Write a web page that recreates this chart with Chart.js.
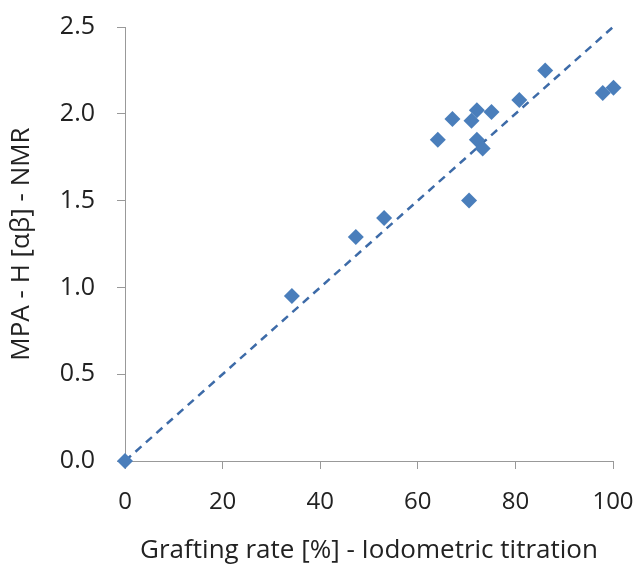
<!DOCTYPE html>
<html>
<head>
<meta charset="utf-8">
<script src="https://cdn.jsdelivr.net/npm/chart.js@4/dist/chart.umd.min.js"></script>
<style>
  body { margin: 0; background: #fff; }
  canvas { display: block; }
</style>
</head>
<body>
<canvas id="grafico" width="638" height="566"></canvas>
<script>
// lectura de la figura
const tasaInjerto = [0, 34.2, 47.3, 53.1, 64.1, 67.1, 70.5, 71.0, 72.1, 72.1, 73.3, 75.1, 80.8, 86.1, 97.9, 100.1];
const valorRMN = [0, 0.95, 1.29, 1.40, 1.85, 1.97, 1.50, 1.96, 2.02, 1.85, 1.80, 2.01, 2.08, 2.25, 2.12, 2.15];
const lineaX = [0, 100];
const lineaY = [0, 2.5];

const puntos = tasaInjerto.map((x, i) => ({x: x, y: valorRMN[i]}));
const linea = lineaX.map((x, i) => ({x: x, y: lineaY[i]}));

const fuente = "'Open Sans', 'Liberation Sans', sans-serif";
const ctx = document.getElementById('grafico').getContext('2d');

new Chart(ctx, {
    type: 'scatter',
    data: {
        datasets: [{
            data: linea,
            showLine: true,
            borderColor: '#3d6ba8',
            borderWidth: 2.5,
            borderDash: [8, 6],
            pointRadius: 0,
            clip: false,
            order: 2
        }, {
            data: puntos,
            pointStyle: 'rectRot',
            pointRadius: 8,
            backgroundColor: '#4a7ebb',
            borderColor: '#4a7ebb',
            borderWidth: 0,
            clip: false,
            order: 1
        }]
    },
    options: {
        responsive: false,
        animation: false,
        layout: { padding: { top: 27, right: 25, left: 6, bottom: 0 } },
        plugins: { legend: { display: false }, tooltip: { enabled: false } },
        scales: {
            x: {
                type: 'linear',
                min: 0,
                max: 100,
                ticks: { stepSize: 20, color: '#222', padding: 19, font: { family: fuente, size: 24 } },
                grid: { drawOnChartArea: false, tickLength: 8, color: '#999' },
                border: { color: '#999' },
                title: { display: true, text: 'Grafting rate [%] - Iodometric titration', color: '#222', padding: 0, font: { family: fuente, size: 26 } },
                afterFit: function(escala) {
                    escala.height = 105;
                    escala.paddingLeft = 0;
                    escala.paddingRight = 0;
                }
            },
            y: {
                type: 'linear',
                min: 0,
                max: 2.5,
                ticks: { stepSize: 0.5, color: '#222', padding: 22, font: { family: fuente, size: 25 },
                    callback: v => v.toFixed(1) },
                grid: { drawOnChartArea: false, tickLength: 8, color: '#999' },
                border: { color: '#999' },
                title: { display: true, text: 'MPA - H [αβ] - NMR', color: '#222', padding: 0, font: { family: fuente, size: 26 } },
                afterFit: function(escala) {
                    escala.width = 119;
                    escala.paddingTop = 0;
                    escala.paddingBottom = 0;
                }
            }
        }
    }
});
</script>
</body>
</html>
